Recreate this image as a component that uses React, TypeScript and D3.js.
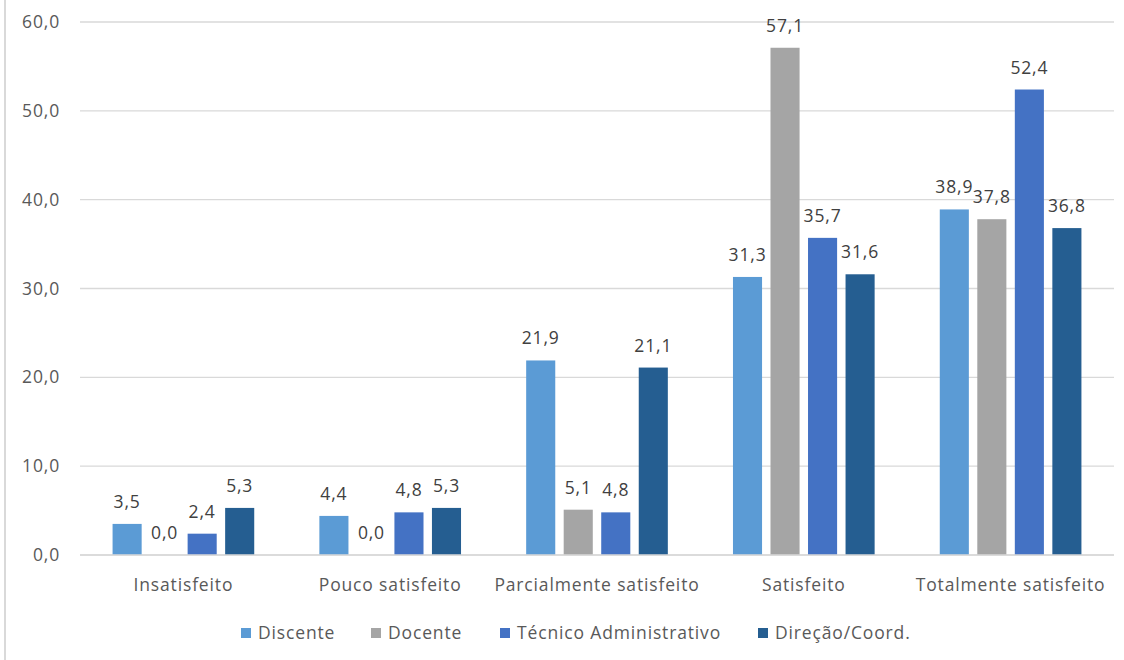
import React from "react";
import * as d3 from "d3";

const categories = [
  "Insatisfeito",
  "Pouco satisfeito",
  "Parcialmente satisfeito",
  "Satisfeito",
  "Totalmente satisfeito",
];
const seriesNames = ["Discente", "Docente", "Técnico Administrativo", "Direção/Coord."];
const discente = [3.5, 4.4, 21.9, 31.3, 38.9];
const docente = [0.0, 0.0, 5.1, 57.1, 37.8];
const tecnico = [2.4, 4.8, 4.8, 35.7, 52.4];
const direcao = [5.3, 5.3, 21.1, 31.6, 36.8];
const yTicks = [0, 10, 20, 30, 40, 50, 60];

const colors = ["#5B9BD5", "#A5A5A5", "#4472C4", "#255E91"];
const legendX = [241, 371, 500, 758];

const W = 1124;
const H = 660;
const left = 80;
const right = 1114;
const top = 22;
const bottom = 555;

const locale = d3.formatLocale({ decimal: ",", thousands: ".", grouping: [3], currency: ["R$", ""] });
const fmt = locale.format(".1f");

const FONT = "'Open Sans', sans-serif";
const FS = 17.5;
const LS = 0.85;

export default function App() {
  const series = [discente, docente, tecnico, direcao];
  const x0 = d3
    .scaleBand<string>()
    .domain(categories)
    .range([left, right])
    .paddingInner(0.315)
    .paddingOuter(0.1575);
  const x1 = d3
    .scaleBand<number>()
    .domain(d3.range(series.length))
    .range([0, x0.bandwidth()])
    .paddingInner(0.225)
    .paddingOuter(0);
  const y = d3.scaleLinear().domain([0, 60]).range([bottom, top]);

  return (
    <svg
      width={W}
      height={H}
      style={{ position: "absolute", left: 0, top: 0, background: "#fff" }}
      fontFamily={FONT}
    >
      <rect x={0} y={0} width={W} height={H} fill="#fff" />
      <line x1={5} x2={5} y1={0} y2={H} stroke="#d9d9d9" strokeWidth={2} />
      {yTicks.map((t) => (
        <g key={t}>
          <line x1={left} x2={right} y1={y(t)} y2={y(t)} stroke="#d9d9d9" strokeWidth={1.3} />
          <text
            x={60}
            y={y(t)}
            dy="0.35em"
            textAnchor="end"
            fontSize={FS}
            fill="#595959"
            letterSpacing={LS}
          >
            {fmt(t)}
          </text>
        </g>
      ))}
      {categories.map((c, ci) => (
        <g key={c} transform={`translate(${x0(c)},0)`}>
          {series.map((s, si) => {
            const v = s[ci];
            const bx = x1(si)!;
            const bw = x1.bandwidth();
            return (
              <g key={si}>
                <rect x={bx} y={y(v)} width={bw} height={bottom - y(v)} fill={colors[si]} />
                <text
                  x={bx + bw / 2}
                  y={y(v) - 16}
                  textAnchor="middle"
                  fontSize={FS}
                  fill="#404040"
                  letterSpacing={LS}
                >
                  {fmt(v)}
                </text>
              </g>
            );
          })}
        </g>
      ))}
      <line x1={left} x2={right} y1={bottom} y2={bottom} stroke="#d9d9d9" strokeWidth={1.3} />
      {categories.map((c) => (
        <text
          key={c}
          x={x0(c)! + x0.bandwidth() / 2}
          y={591}
          textAnchor="middle"
          fontSize={FS}
          fill="#595959"
          letterSpacing={LS}
        >
          {c}
        </text>
      ))}
      {seriesNames.map((n, i) => (
        <g key={n}>
          <rect x={legendX[i]} y={628} width={10} height={10} fill={colors[i]} />
          <text x={legendX[i] + 17} y={639} fontSize={FS} fill="#595959" letterSpacing={LS}>
            {n}
          </text>
        </g>
      ))}
    </svg>
  );
}
